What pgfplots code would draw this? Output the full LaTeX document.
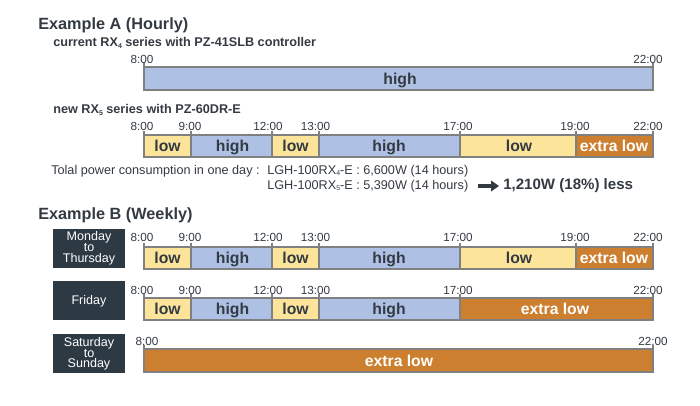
\documentclass[border=0pt]{standalone}
\usepackage{pgfplots}
\pgfplotsset{compat=1.18}
\usepackage{fontspec}
\setmainfont{Liberation Sans}
\usetikzlibrary{arrows.meta}
\definecolor{cblue}{HTML}{AEC0E4}
\definecolor{cyellow}{HTML}{FDE49B}
\definecolor{corange}{HTML}{CC7F2E}
\definecolor{cdark}{HTML}{2D3A44}
\definecolor{cborder}{HTML}{808080}
\definecolor{ctext}{HTML}{333A42}
\newcommand{\seg}[5]{\addplot[draw=cborder, fill=#5, line width=0.9pt] coordinates {(#1,#3) (#2,#3) (#2,#4) (#1,#4)} -- cycle;}
\newcommand{\fs}[1]{\fontsize{#1}{#1}\selectfont}
\newcommand{\sub}[1]{\raisebox{-0.25ex}{\fontsize{5.2}{5.2}\selectfont #1}}
% tick mark + label: boundary x, label y, bar top y, text, label centre x
\newcommand{\tk}[5]{\draw[cborder, line width=0.9pt] (axis cs:#1,#3-4) -- (axis cs:#1,#3);\node[tl] at (axis cs:#5,#2) {#4};}
\begin{document}
\begin{tikzpicture}
\tikzset{tl/.style={font=\fs{8.8}, text=ctext, inner sep=0pt},
         bl/.style={font=\fs{11.8}\bfseries, text=ctext, inner sep=0pt, anchor=base},
         wl/.style={font=\fs{11.8}\bfseries, text=white, inner sep=0pt, anchor=base},
         dl/.style={font=\fs{9.4}, text=white, inner sep=0pt, anchor=base}}
\begin{axis}[
  hide axis, scale only axis, clip=false,
  width=525pt, height=304.5pt,
  xmin=0, xmax=700, ymin=0, ymax=406, y dir=reverse,
]
% Row 1: current RX4
\seg{144}{653}{67}{90}{cblue}
% Row 2: new RX5
\seg{144}{191}{135}{157}{cyellow}
\seg{191}{272}{135}{157}{cblue}
\seg{272}{319}{135}{157}{cyellow}
\seg{319}{460}{135}{157}{cblue}
\seg{460}{576}{135}{157}{cyellow}
\seg{576}{653}{135}{157}{corange}
% Row 3: Monday to Thursday
\seg{144}{191}{247}{269}{cyellow}
\seg{191}{272}{247}{269}{cblue}
\seg{272}{319}{247}{269}{cyellow}
\seg{319}{460}{247}{269}{cblue}
\seg{460}{576}{247}{269}{cyellow}
\seg{576}{653}{247}{269}{corange}
% Row 4: Friday
\seg{144}{191}{298}{320}{cyellow}
\seg{191}{272}{298}{320}{cblue}
\seg{272}{319}{298}{320}{cyellow}
\seg{319}{460}{298}{320}{cblue}
\seg{460}{653}{298}{320}{corange}
% Row 5: Saturday to Sunday
\seg{144}{653}{349}{372}{corange}

% ticks and labels
\tk{144}{59}{67}{8:00}{142}
\tk{653}{59}{67}{22:00}{648}
\tk{144}{126}{135}{8:00}{142}
\tk{191}{126}{135}{9:00}{190}
\tk{272}{126}{135}{12:00}{268}
\tk{319}{126}{135}{13:00}{315.5}
\tk{460}{126}{135}{17:00}{458}
\tk{576}{126}{135}{19:00}{575}
\tk{653}{126}{135}{22:00}{648}
\tk{144}{237.5}{247}{8:00}{142}
\tk{191}{237.5}{247}{9:00}{190}
\tk{272}{237.5}{247}{12:00}{268}
\tk{319}{237.5}{247}{13:00}{315.5}
\tk{460}{237.5}{247}{17:00}{458}
\tk{576}{237.5}{247}{19:00}{575}
\tk{653}{237.5}{247}{22:00}{648}
\tk{144}{290}{298}{8:00}{142}
\tk{191}{290}{298}{9:00}{190}
\tk{272}{290}{298}{12:00}{268}
\tk{319}{290}{298}{13:00}{315.5}
\tk{460}{290}{298}{17:00}{458}
\tk{653}{290}{298}{22:00}{648}
\tk{144}{341}{349}{8:00}{147}
\tk{653}{341}{349}{22:00}{653}

% bar labels (baseline positions)
\node[bl] at (axis cs:400,84.5) {high};
\node[bl] at (axis cs:167.5,151.5) {low};
\node[bl] at (axis cs:232.5,151.5) {high};
\node[bl] at (axis cs:295.5,151.5) {low};
\node[bl] at (axis cs:389,151.5) {high};
\node[bl] at (axis cs:519,151.5) {low};
\node[wl] at (axis cs:614,151.5) {extra low};
\node[bl] at (axis cs:167.5,263.5) {low};
\node[bl] at (axis cs:232.5,263.5) {high};
\node[bl] at (axis cs:295.5,263.5) {low};
\node[bl] at (axis cs:389,263.5) {high};
\node[bl] at (axis cs:519,263.5) {low};
\node[wl] at (axis cs:614,263.5) {extra low};
\node[bl] at (axis cs:167.5,314.5) {low};
\node[bl] at (axis cs:232.5,314.5) {high};
\node[bl] at (axis cs:295.5,314.5) {low};
\node[bl] at (axis cs:389,314.5) {high};
\node[wl] at (axis cs:555,314.5) {extra low};
\node[wl] at (axis cs:399,366) {extra low};

% headings
\node[anchor=west, inner sep=0pt, font=\fs{12.2}\bfseries, text=ctext] at (axis cs:38,25) {Example A (Hourly)};
\node[anchor=west, inner sep=0pt, font=\fs{9.5}\bfseries, text=ctext] at (axis cs:53,43) {current RX\sub{4} series with PZ-41SLB controller};
\node[anchor=west, inner sep=0pt, font=\fs{9.5}\bfseries, text=ctext] at (axis cs:53,110) {new RX\sub{5} series with PZ-60DR-E};
\node[anchor=west, inner sep=0pt, font=\fs{12.2}\bfseries, text=ctext] at (axis cs:38,215) {Example B (Weekly)};

% power consumption text
\node[anchor=west, inner sep=0pt, font=\fs{9.5}, text=ctext] at (axis cs:51,171) {Tolal power consumption in one day :};
\node[anchor=west, inner sep=0pt, font=\fs{9.5}, text=ctext] at (axis cs:267,171) {LGH-100RX\sub{4}-E : 6,600W (14 hours)};
\node[anchor=west, inner sep=0pt, font=\fs{9.5}, text=ctext] at (axis cs:267,186) {LGH-100RX\sub{5}-E : 5,390W (14 hours)};
\draw[-{Triangle[length=6pt,width=8pt]}, line width=2.4pt, ctext] (axis cs:478,186) -- (axis cs:499,186);
\node[anchor=west, inner sep=0pt, font=\fs{11.3}\bfseries, text=ctext] at (axis cs:503,186) {1,210W (18\%) less};

% day boxes
\fill[cdark] (axis cs:53,229) rectangle (axis cs:125,268);
\node[dl] at (axis cs:89,241) {Monday};
\node[dl] at (axis cs:89,252) {to};
\node[dl] at (axis cs:89,262.5) {Thursday};
\fill[cdark] (axis cs:53,281) rectangle (axis cs:125,320);
\node[dl] at (axis cs:89,304) {Friday};
\fill[cdark] (axis cs:53,334) rectangle (axis cs:125,373);
\node[dl] at (axis cs:89,346) {Saturday};
\node[dl] at (axis cs:89,357) {to};
\node[dl] at (axis cs:89,367.5) {Sunday};
\end{axis}
\path (current axis.south west) rectangle (current axis.north east);
\end{tikzpicture}
\end{document}
